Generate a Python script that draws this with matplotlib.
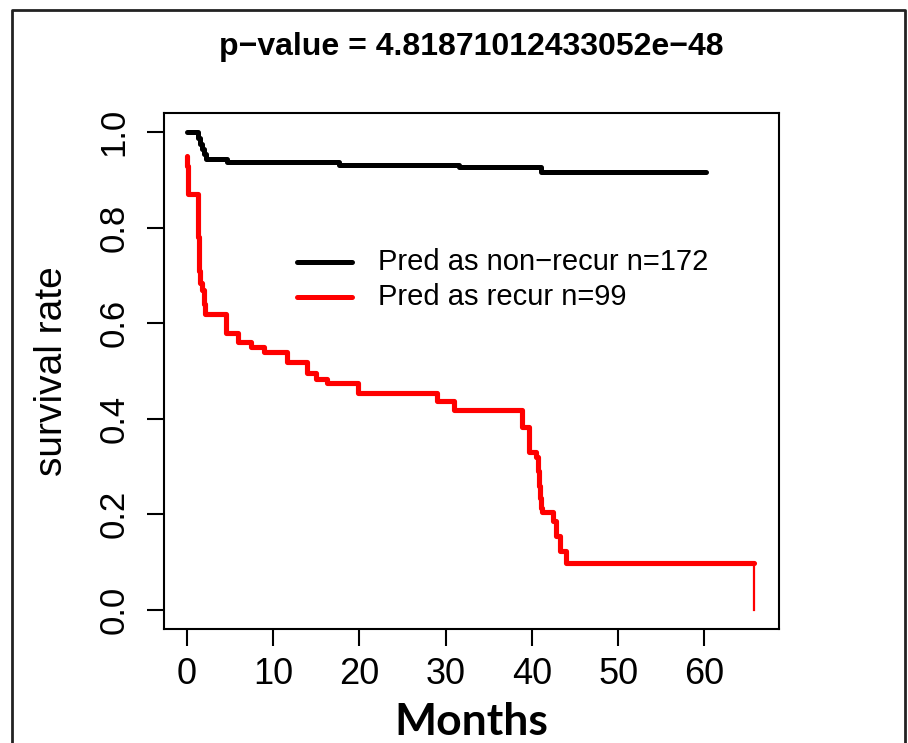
import matplotlib
matplotlib.use("Agg")
import matplotlib.pyplot as plt
from matplotlib.lines import Line2D

# survival curves (months, survival)
months_nonrecur = [0, 1.3, 1.5, 1.8, 2.0, 2.2, 4.7, 17.7, 31.6, 41.0, 60.2]
surv_nonrecur = [1.0, 0.988, 0.976, 0.965, 0.955, 0.943, 0.937, 0.932, 0.926, 0.917, 0.917]

months_recur = [0, 0.05, 0.1, 0.15, 1.3, 1.35, 1.4, 1.45, 1.5, 1.8, 2.0, 2.1,
                4.6, 5.9, 7.5, 9.0, 11.6, 13.9, 15.0, 16.2, 19.8, 29.0, 31.0,
                38.8, 39.7, 40.5, 40.7, 40.8, 40.9, 41.0, 41.2, 42.4, 42.8,
                43.3, 43.9, 65.8]
surv_recur = [0.95, 0.93, 0.90, 0.87, 0.82, 0.78, 0.74, 0.71, 0.685, 0.67, 0.64, 0.62,
              0.58, 0.561, 0.55, 0.54, 0.519, 0.496, 0.483, 0.474, 0.454, 0.437, 0.418,
              0.382, 0.33, 0.32, 0.29, 0.26, 0.235, 0.214, 0.204, 0.187, 0.155,
              0.124, 0.099, 0.099]
last_drop = [0.099, 0.0]

labels = ["Pred as non\u2212recur n=172", "Pred as recur n=99"]
title = "p\u2212value = 4.81871012433052e\u221248"
xticks = [0, 10, 20, 30, 40, 50, 60]
yticks = [0.0, 0.2, 0.4, 0.6, 0.8, 1.0]

W, H = 908, 743
fig = plt.figure(figsize=(W / 100, H / 100), dpi=100)
fig.patch.set_facecolor("white")

# axes box in pixels
L, R, T, B = 164, 779, 113, 629
ax = fig.add_axes([L / W, 1 - B / H, (R - L) / W, (B - T) / H])

ax.step(months_nonrecur, surv_nonrecur, where="post", color="black", lw=3.6,
        solid_joinstyle="round", solid_capstyle="round")
ax.step(months_recur, surv_recur, where="post", color="red", lw=3.7,
        solid_joinstyle="round", solid_capstyle="round")
ax.plot([months_recur[-1]] * 2, last_drop, color="red", lw=1.6)

ax.set_xlim(-2.64, 68.64)
ax.set_ylim(-0.04, 1.04)

regular = ["Liberation Sans", "DejaVu Sans"]

ax.set_xticks(xticks)
ax.set_xticklabels([str(v) for v in xticks], family=regular, fontsize=26)
ax.set_yticks(yticks)
ax.set_yticklabels(["%.1f" % v for v in yticks], family=regular, fontsize=25,
                   rotation=90, va="center")
ax.tick_params(axis="x", length=12, width=1.5, pad=8)
ax.tick_params(axis="y", length=12, width=1.5, pad=12)
for s in ax.spines.values():
    s.set_linewidth(1.5)

ax.set_ylabel("survival rate", family=regular, fontsize=28, labelpad=20)

# legend drawn like R's legend(bty="n")
leg_x0, leg_x1, leg_tx = 297, 352, 378
for i, (lab, col) in enumerate(zip(labels, ["black", "red"])):
    yy = 1 - (262 + 35 * i) / H
    fig.add_artist(Line2D([leg_x0 / W, leg_x1 / W], [yy, yy], color=col, lw=3.6,
                          solid_capstyle="round"))
    fig.text(leg_tx / W, yy, lab, family=regular, fontsize=21, va="center", ha="left")

fig.text(471 / W, 1 - 47 / H, title, family=regular, fontsize=23, fontweight="bold",
         ha="center", va="center")
fig.text(471 / W, 1 - 722 / H, "Months", family=["Lato", "Liberation Sans"],
         fontsize=32, fontweight="bold", ha="center", va="center")

# outer frame of the pasted figure
fx0, fx1, fy = 12 / W, 905 / W, 1 - 10 / H
fig.add_artist(Line2D([fx0, fx0, fx1, fx1], [0, fy, fy, 0], color="#222222", lw=2))

fig.savefig("out.png", dpi=100)
